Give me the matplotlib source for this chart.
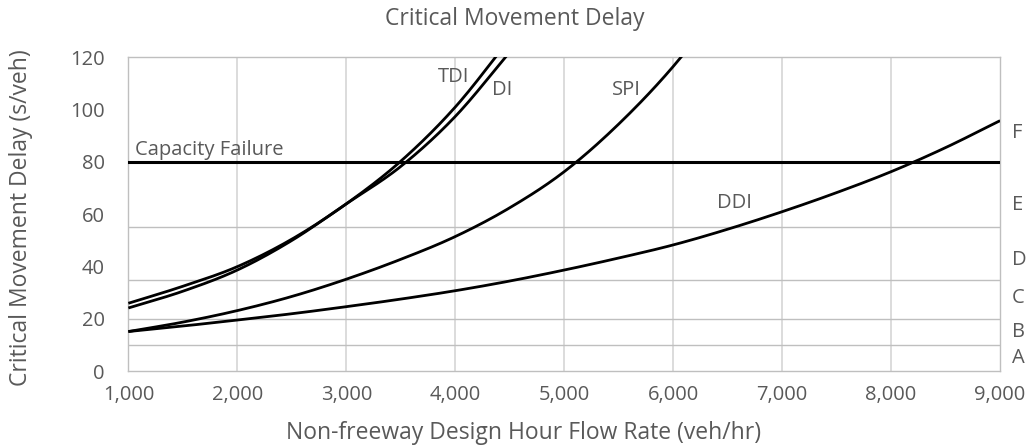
import numpy as np
import matplotlib
matplotlib.use("Agg")
import matplotlib.pyplot as plt

plt.rcParams['font.family'] = ['Open Sans', 'DejaVu Sans']

# ---- data ----
flow_tdi = [1000, 1500, 2000, 2500, 3000, 3500, 4000, 4500]
delay_tdi = [26.0, 32.5, 40.0, 50.5, 64.0, 80.3, 101.0, 127.0]

flow_di = [1000, 1500, 2000, 2500, 3000, 3500, 4000, 4500]
delay_di = [24.2, 30.6, 38.7, 50.0, 64.0, 78.3, 97.4, 122.0]

flow_spi = [1000, 1500, 2000, 2500, 3000, 3500, 4000, 4500, 5000, 5500, 6000, 6500]
delay_spi = [15.2, 18.8, 23.2, 28.6, 35.2, 42.8, 51.5, 62.5, 76.3, 94.5, 116.5, 143.0]

flow_ddi = [1000, 1500, 2000, 2500, 3000, 3500, 4000, 4500, 5000, 5500, 6000,
            6500, 7000, 7500, 8000, 8500, 9000]
delay_ddi = [15.2, 17.3, 19.6, 22.0, 24.7, 27.6, 30.8, 34.5, 38.7, 43.3, 48.3,
             54.3, 61.0, 68.3, 76.3, 85.5, 95.8]

capacity_failure = 80
los_thresholds = [10, 20, 35, 55]
los_letters = ['A', 'B', 'C', 'D', 'E', 'F']
los_letter_y = [5.0, 15.0, 28.0, 42.5, 63.5, 91.0]

curve_labels = {'TDI': (3840, 112.5), 'DI': (4340, 107.5), 'SPI': (5440, 107.5), 'DDI': (6400, 64.5)}


def smooth(x, y, n=20):
    """Catmull-Rom smoothing for drawing (like Excel smoothed lines)."""
    x = np.asarray(x, float); y = np.asarray(y, float)
    px = np.concatenate([[2 * x[0] - x[1]], x, [2 * x[-1] - x[-2]]])
    py = np.concatenate([[2 * y[0] - y[1]], y, [2 * y[-1] - y[-2]]])
    xs, ys = [], []
    t = np.linspace(0, 1, n, endpoint=False)
    for i in range(1, len(px) - 2):
        p0, p1, p2, p3 = (np.array([px[j], py[j]]) for j in (i - 1, i, i + 1, i + 2))
        tt = t[:, None]
        pts = 0.5 * ((2 * p1) + (-p0 + p2) * tt + (2 * p0 - 5 * p1 + 4 * p2 - p3) * tt ** 2
                     + (-p0 + 3 * p1 - 3 * p2 + p3) * tt ** 3)
        xs.extend(pts[:, 0]); ys.extend(pts[:, 1])
    xs.append(x[-1]); ys.append(y[-1])
    return np.array(xs), np.array(ys)


fig = plt.figure(figsize=(10.31, 4.48), dpi=100)
ax = fig.add_axes([0.1245, 0.1712, 0.8455, 0.7008])

for xv in range(2000, 9000, 1000):
    ax.axvline(xv, color='#d9d9d9', lw=1.3, zorder=1)
for yv in los_thresholds:
    ax.axhline(yv, color='#bfbfbf', lw=1.0, zorder=1)

ax.axhline(capacity_failure, color='black', lw=2.2, zorder=3)

for fx, dy in [(flow_tdi, delay_tdi), (flow_di, delay_di), (flow_spi, delay_spi), (flow_ddi, delay_ddi)]:
    sx, sy = smooth(fx, dy)
    ax.plot(sx, sy, color='black', lw=2.0, zorder=4, solid_capstyle='butt')

ax.set_xlim(1000, 9000)
ax.set_ylim(0, 120)
ax.set_xticks(range(1000, 9001, 1000))
ax.set_xticklabels([f'{v:,}' for v in range(1000, 9001, 1000)])
ax.set_yticks(range(0, 121, 20))

txt_c = '#595959'
ax.tick_params(axis='both', length=0, labelsize=14.5, colors=txt_c)
ax.tick_params(axis='x', pad=10)
ax.tick_params(axis='y', pad=17)
for s in ['top', 'right', 'left', 'bottom']:
    ax.spines[s].set_color('#bfbfbf')
    ax.spines[s].set_linewidth(1.0)

fig.text(524 / 1031, 1 - 433 / 448, 'Non-freeway Design Hour Flow Rate (veh/hr)',
         fontsize=16.5, color=txt_c, ha='center', va='center')
fig.text(21 / 1031, 1 - 218 / 448, 'Critical Movement Delay (s/veh)',
         fontsize=16.5, color=txt_c, ha='center', va='center', rotation=90)
fig.text(515 / 1031, 1 - 19 / 448, 'Critical Movement Delay',
         fontsize=16.5, color=txt_c, ha='center', va='center')

ax.text(1060, 80.8, 'Capacity Failure', fontsize=14.5, color=txt_c, va='bottom', ha='left', zorder=5)
for name, (lx, ly) in curve_labels.items():
    ax.text(lx, ly, name, fontsize=14.5, color=txt_c, ha='left', va='center', zorder=5)

for letter, ly in zip(los_letters, los_letter_y):
    ax.text(9110, ly, letter, fontsize=14.5, color=txt_c, ha='left', va='center', clip_on=False)

fig.savefig('out.png', dpi=100)
